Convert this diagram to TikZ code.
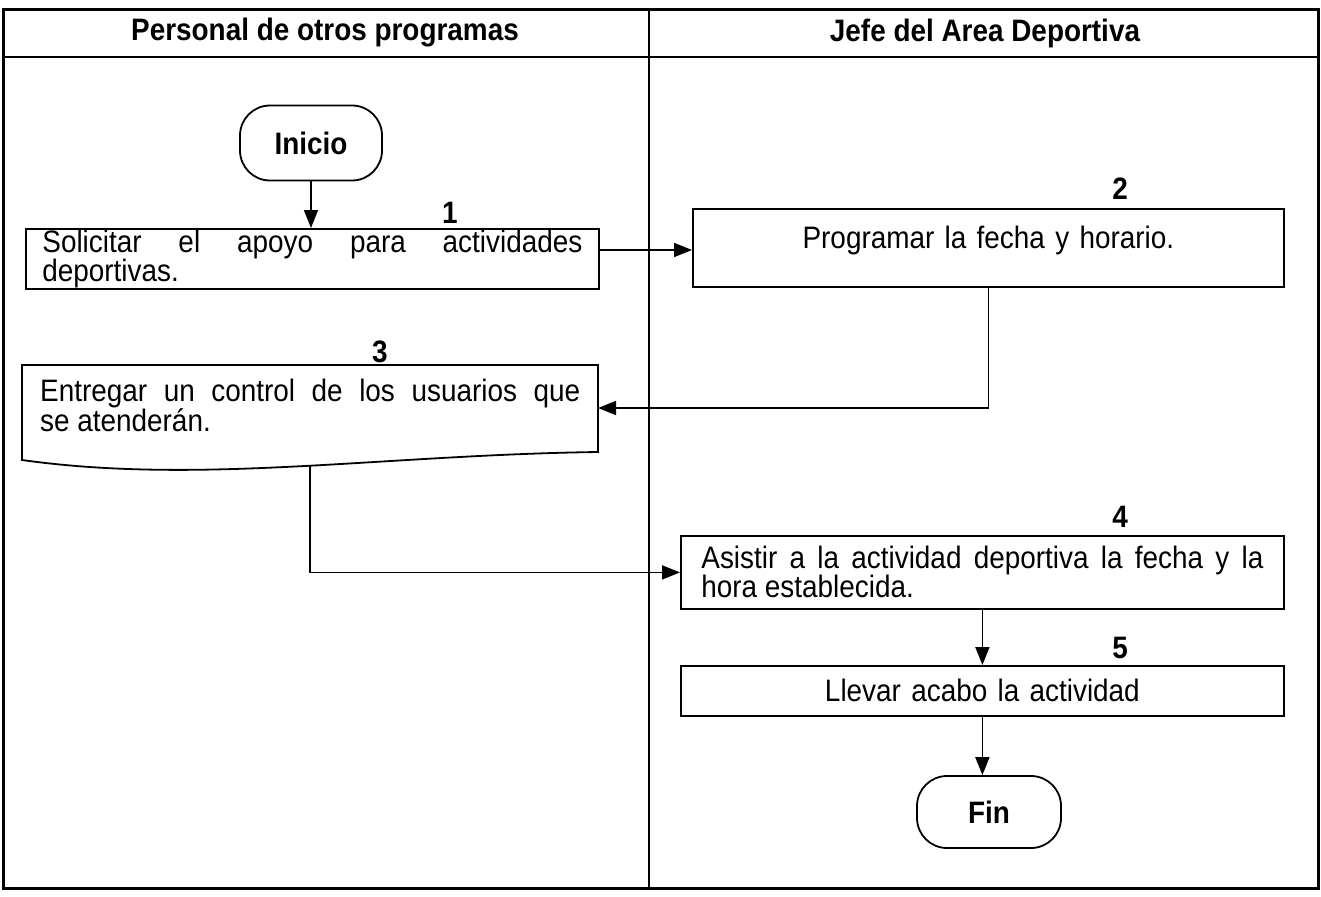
\documentclass[tikz,border=0pt]{standalone}
\usepackage{fontspec}
\setmainfont[FakeStretch=0.9]{Liberation Sans}
\usetikzlibrary{arrows.meta,calc}
\begin{document}
\begin{tikzpicture}[x=1pt,y=-1pt,
  txt/.style={font=\fontsize{31}{29}\selectfont},
  hdr/.style={font=\fontsize{31}{29}\selectfont\bfseries, inner sep=0pt},
  num/.style={font=\fontsize{31}{29}\selectfont\bfseries, inner sep=0pt},
  procbox/.style={draw, line width=1.8pt, anchor=north west, inner ysep=0pt, txt},
  term/.style={draw, line width=1.8pt, rounded corners=30pt, minimum width=142pt, minimum height=75pt, inner sep=0pt, font=\fontsize{31}{29}\selectfont\bfseries},
  flow/.style={line width=1.8pt, -{Triangle[length=18pt,width=14pt]}},
  frameline/.style={line width=3pt}]
\useasboundingbox (0,0) rectangle (1321,896);
% frame
\draw[frameline] (3,10) rectangle (1318,888);
\draw[line width=2.5pt] (3,57) -- (1318,57);
\draw[line width=2pt] (649,10) -- (649,888);
\node[hdr] (h1) at (325,33) {Personal de otros programas};
\node[hdr] (h2) at (985,33) {Jefe del Area Deportiva};
% nodes
\node[term] (ini) at (311,143) {Inicio};
\node[num] (n1) at (450,213) {1};
\node[procbox, minimum width=573pt, minimum height=60pt, text width=540pt, inner xsep=16.5pt, align=justify] (b1) at (25,228)
  {Solicitar el apoyo para actividades\linebreak deportivas.};
\node[num] (n2) at (1120,189) {2};
\node[procbox, minimum width=591pt, minimum height=78pt, text width=560pt, inner xsep=15.5pt, align=center, text height=22pt, text depth=20pt] (b2) at (692,208)
  {Programar la fecha y horario.};
\node[num] (n3) at (380,352) {3};
\draw[line width=1.8pt] (22,365) -- (598,365) -- (598,452)
  .. controls (380,455) and (200,485) .. (22,460) -- cycle;
\node[txt, anchor=north west, minimum width=576pt, text width=540pt, inner xsep=18pt, inner ysep=14pt, align=justify] (b3) at (22,365)
  {Entregar un control de los usuarios que\linebreak se atenderán.};
\coordinate (b3e) at (598,408);
\coordinate (b3s) at (310,466);
\node[num] (n4) at (1120,517) {4};
\node[procbox, minimum width=603pt, minimum height=73pt, text width=562pt, inner xsep=20.5pt, align=justify] (b4) at (680,535)
  {Asistir a la actividad deportiva la fecha y la\linebreak hora establecida.};
\node[num] (n5) at (1120,648) {5};
\node[procbox, minimum width=603pt, minimum height=50pt, text width=560pt, inner xsep=21.5pt, align=center] (b5) at (680,665)
  {Llevar acabo la actividad};
\node[term, minimum width=144pt, minimum height=72pt] (fin) at (989,812) {Fin};
% connectors
\coordinate (y250) at (0,250);
\draw[flow] (ini.south) -- (ini.south |- b1.north);
\draw[flow] (b1.east |- y250) -- (b2.west |- y250);
\draw[flow] (b2.south) -- (b2.south |- b3e) -- (b3e);
\draw[flow] (b3s) -- (b3s |- b4.west) -- (b4.west);
\draw[flow] (b4.south) -- (b5.north);
\draw[flow] (b5.south) -- (b5.south |- fin.north);
\end{tikzpicture}
\end{document}
